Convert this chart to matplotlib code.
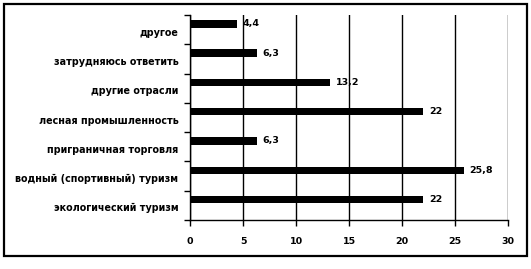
import numpy as np
import matplotlib
matplotlib.use("Agg")
import matplotlib.pyplot as plt
from matplotlib.patches import Rectangle

categories = ['другое', 'затрудняюсь ответить', 'другие отрасли', 'лесная промышленность',
              'приграничная торговля', 'водный (спортивный) туризм', 'экологический туризм']
values = [4.4, 6.3, 13.2, 22, 6.3, 25.8, 22]
value_labels = ['4,4', '6,3', '13,2', '22', '6,3', '25,8', '22']
xticks = [0, 5, 10, 15, 20, 25, 30]

plt.rcParams['font.family'] = ['DejaVu Sans']

fig = plt.figure(figsize=(5.31, 2.69), dpi=100)
ax = fig.add_axes([0.358, 0.182, 0.599, 0.762])

# outer frame of the chart
fig.patches.append(Rectangle((4 / 531, 1 - 256 / 269), 523 / 531, 252 / 269,
                             transform=fig.transFigure, fill=False,
                             edgecolor='black', linewidth=1.6))

ypos = np.arange(len(categories))[::-1]
bar_y = ypos + 0.2   # bars sit a little above the middle of each band
ax.barh(bar_y, values, height=0.25, color='black', zorder=3)

for y, v, lab in zip(bar_y, values, value_labels):
    ax.text(v + 0.55, y, lab, va='center', ha='left', fontsize=6.8,
            fontweight='bold', zorder=4)

ax.set_xlim(0, 30)
ax.set_ylim(-0.5, len(categories) - 0.5)
ax.set_xticks(xticks)
ax.set_xticklabels([str(t) for t in xticks], fontsize=6.8, fontweight='bold')
ax.set_yticks(ypos - 0.07)
ax.set_yticklabels(categories, fontsize=6.9, fontweight='bold')
ax.set_yticks(np.arange(-0.5, len(categories)), minor=True)
ax.tick_params(axis='y', which='major', length=0, pad=8.5)
ax.tick_params(axis='y', which='minor', length=4, width=1, direction='out')
ax.tick_params(axis='x', length=4, width=1, direction='out', pad=8)

ax.grid(axis='x', color='black', linewidth=1, zorder=0)
for s in ['top', 'right']:
    ax.spines[s].set_visible(False)
for s in ['left', 'bottom']:
    ax.spines[s].set_linewidth(1)

fig.savefig('out.png', dpi=100)
